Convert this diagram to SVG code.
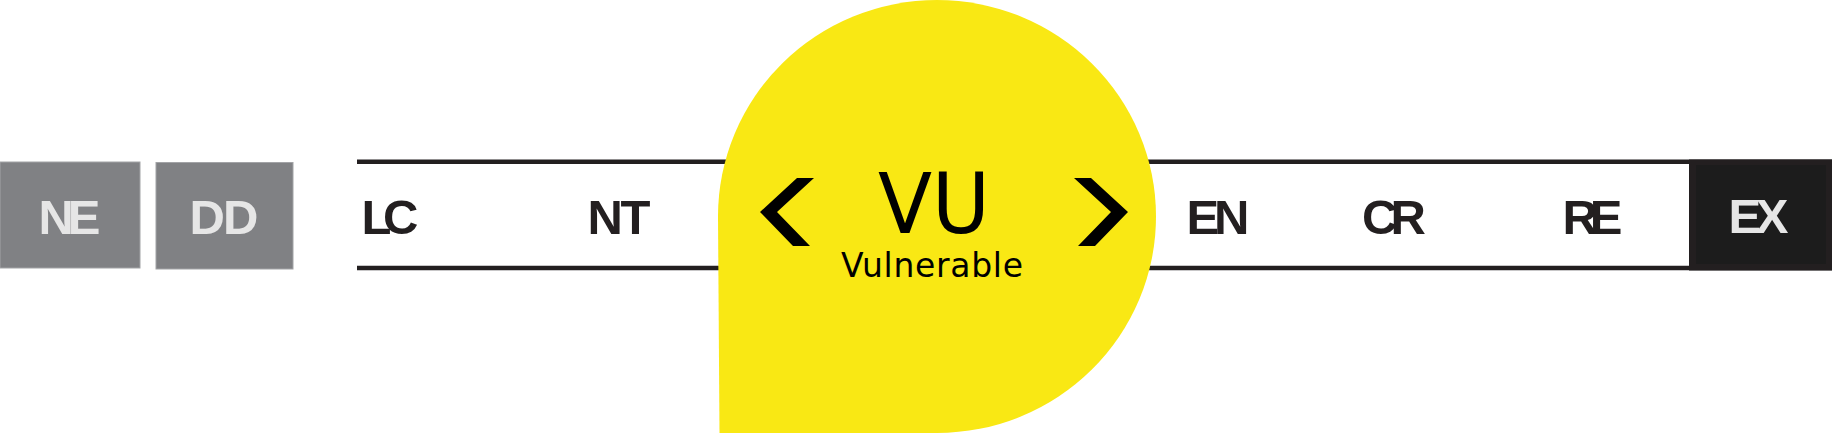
<svg xmlns="http://www.w3.org/2000/svg" width="1832" height="434" viewBox="0 0 1832 434">
<defs>
<style>
.gbox{fill:#808184;stroke:#a2a3a6;stroke-width:1}
.lbl{font-family:"Liberation Sans",Arial,sans-serif;font-weight:700;font-size:49px}
.dark{fill:#231f20}
.light{fill:#e6e6e6}
.track{stroke:#231f20;stroke-width:4.5;fill:none}
.chev{fill:#000}
.vu{font-family:"DejaVu Sans",sans-serif;fill:#000}
</style>
</defs>
<rect width="1832" height="434" fill="#ffffff"/>
<g id="connectors">
<line class="track" x1="357" y1="161.7" x2="740" y2="161.7"/>
<line class="track" x1="357" y1="268" x2="740" y2="268"/>
<line class="track" x1="1140" y1="161.7" x2="1832" y2="161.7"/>
<line class="track" x1="1140" y1="268" x2="1832" y2="268"/>
</g>
<g id="NE">
<rect class="gbox" x="0" y="162" width="140" height="106"/>
<text class="lbl light" x="38.5" y="234" textLength="62" lengthAdjust="spacing">NE</text>
</g>
<g id="DD">
<rect class="gbox" x="156" y="162.5" width="137" height="106.5"/>
<text class="lbl light" x="189.5" y="234" textLength="69" lengthAdjust="spacing">DD</text>
</g>
<g id="LC">
<text class="lbl dark" x="361.5" y="234" textLength="57" lengthAdjust="spacing">LC</text>
</g>
<g id="NT">
<text class="lbl dark" x="587.5" y="234" textLength="63" lengthAdjust="spacing">NT</text>
</g>
<g id="EN">
<text class="lbl dark" x="1186.5" y="234" textLength="63" lengthAdjust="spacing">EN</text>
</g>
<g id="CR">
<text class="lbl dark" x="1362" y="234" textLength="64" lengthAdjust="spacing">CR</text>
</g>
<g id="RE">
<text class="lbl dark" x="1562.5" y="234" textLength="60" lengthAdjust="spacing">RE</text>
</g>
<g id="EX">
<rect x="1689" y="159.5" width="143" height="111" fill="#231f20"/>
<rect x="1696" y="165" width="130" height="99" fill="#1c1c1c"/>
<text class="lbl light" x="1728.5" y="233" textLength="60" lengthAdjust="spacing">EX</text>
</g>
<g id="VU">
<path d="M 718 216.5 A 219 216.5 0 1 1 937 433 L 719.5 433 Z" fill="#f9e814"/>
<polygon class="chev" points="814,178 797,178 760,212 793,246 810,246 777,212"/>
<polygon class="chev" points="1074,178 1091,178 1128,212 1095,246 1078,246 1111,212"/>
<text class="vu" x="934" y="233" font-size="84" text-anchor="middle" textLength="112" lengthAdjust="spacingAndGlyphs">VU</text>
<text class="vu" x="932" y="277" font-size="33" text-anchor="middle" textLength="182" lengthAdjust="spacing">Vulnerable</text>
</g>
</svg>
